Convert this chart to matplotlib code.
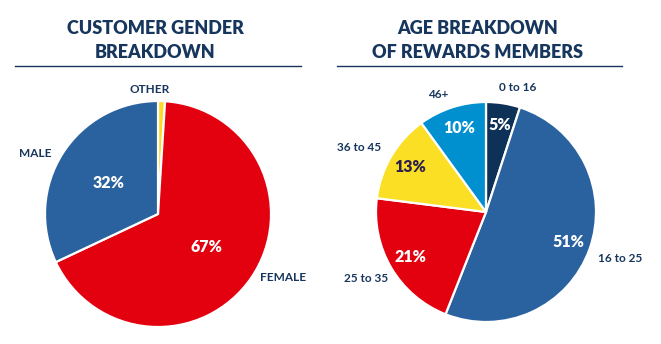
import matplotlib
matplotlib.use('Agg')
import matplotlib.pyplot as plt
from matplotlib.lines import Line2D
import numpy as np

plt.rcParams['font.family'] = ['Lato', 'DejaVu Sans']

# data
gender_labels = ['OTHER', 'FEMALE', 'MALE']
gender_values = [1, 67, 32]
gender_pct = ['', '67%', '32%']

age_labels = ['0 to 16', '16 to 25', '25 to 35', '36 to 45', '46+']
age_values = [5, 51, 21, 13, 10]
age_pct = ['5%', '51%', '21%', '13%', '10%']

navy = '#17365d'
gender_colors = ['#fcdc26', '#e3000f', '#2a62a0']
age_colors = ['#0e3158', '#2a62a0', '#e3000f', '#fbdf24', '#0090d0']
age_pct_colors = ['white', 'white', 'white', '#2b1f4f', 'white']

# label placement (distance in radii, angle in degrees), "best fit" style
gender_label_pos = [(1.1, 93.7), (1.24, -27), (1.21, 153.6)]
age_label_pos = [(1.17, 75.6), (1.29, -19), (1.25, -151), (1.30, 153), (1.15, 112)]

W, H = 661, 344
fig = plt.figure(figsize=(W / 100, H / 100), dpi=100)
fig.patch.set_facecolor('white')

S = 1.5  # half-width of the axes in pie radii


def pie_axes(cx, cy, r):
    # square axes centred on (cx, cy) pixels, radius r pixels
    half = r * S
    return fig.add_axes([(cx - half) / W, (H - cy - half) / H, 2 * half / W, 2 * half / H])


def draw_pie(ax, values, labels, pcts, colors, pct_colors, label_pos, pct_dist):
    wedges, texts = ax.pie(values, labels=labels, colors=colors, startangle=90,
                           counterclock=False,
                           wedgeprops=dict(edgecolor='white', linewidth=1.6),
                           textprops=dict(color=navy, fontsize=8.5, fontweight='bold'))
    for t, (d, a) in zip(texts, label_pos):
        t.set_position((d * np.cos(np.deg2rad(a)), d * np.sin(np.deg2rad(a))))
        t.set_ha('center')
        t.set_va('center')
    # percentage labels inside the wedges
    total = float(sum(values))
    start = 90.0
    for v, p, c in zip(values, pcts, pct_colors):
        mid = np.deg2rad(start - 360 * v / total / 2)
        start -= 360 * v / total
        if p:
            ax.text(pct_dist * np.cos(mid), pct_dist * np.sin(mid), p, ha='center',
                    va='center', color=c, fontsize=11.5, fontweight='heavy')
    ax.set_xlim(-S, S)
    ax.set_ylim(-S, S)
    ax.set_aspect('equal')
    ax.axis('off')
    return wedges


ax1 = pie_axes(158, 214, 113)
draw_pie(ax1, gender_values, gender_labels, gender_pct, gender_colors,
         ['white'] * 3, gender_label_pos, 0.52)

ax2 = pie_axes(486, 212, 110)
draw_pie(ax2, age_values, age_labels, age_pct, age_colors, age_pct_colors,
         age_label_pos, 0.8)

# titles
title_kw = dict(ha='center', va='center', color=navy, fontsize=13, fontweight='heavy')
fig.text(155 / W, 1 - 29 / H, 'CUSTOMER GENDER', **title_kw)
fig.text(155 / W, 1 - 53 / H, 'BREAKDOWN', **title_kw)
fig.text(478 / W, 1 - 29 / H, 'AGE BREAKDOWN', **title_kw)
fig.text(478 / W, 1 - 53 / H, 'OF REWARDS MEMBERS', **title_kw)

for x0, x1 in [(15, 301), (337, 622)]:
    fig.add_artist(Line2D([x0 / W, x1 / W], [1 - 66 / H, 1 - 66 / H],
                          transform=fig.transFigure, color=navy, linewidth=1))

fig.savefig('out.png', dpi=100)
